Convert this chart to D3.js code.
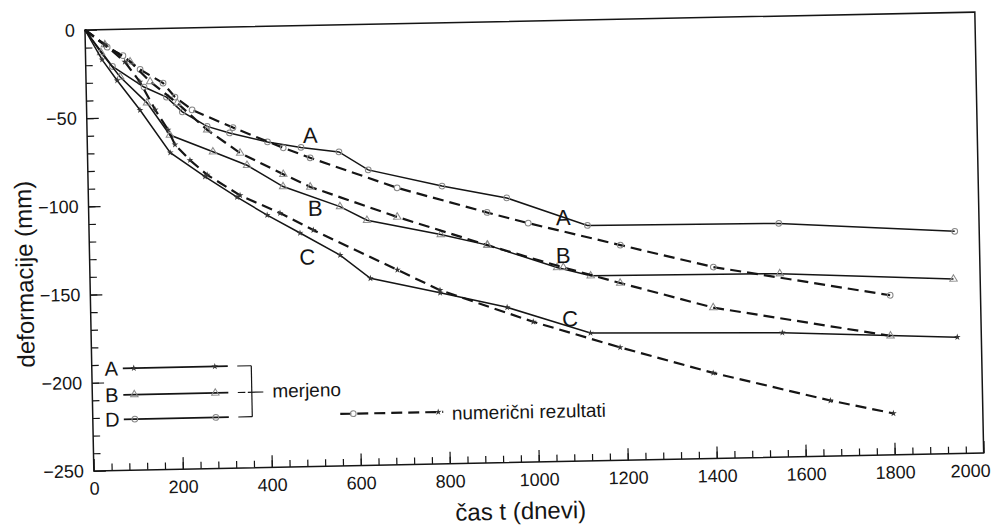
<!DOCTYPE html>
<html>
<head>
<meta charset="utf-8">
<script src="https://cdn.jsdelivr.net/npm/d3@7"></script>
<style>
body{margin:0;background:#fff;}
svg{display:block;font-family:"Liberation Sans",Arial,sans-serif;}
</style>
</head>
<body>
<svg id="chart" width="992" height="528"></svg>
<script>
// measured values (solid lines), [t (days), deformation (mm)]
const measuredA = [[0,0],[60,-21],[130,-33],[180,-39],[215,-47.5],[270,-56],[320,-60],[405,-65.5],[480,-69],[565,-72],[630,-82.5],[795,-92.5],[940,-100],[1120,-116.5],[1550,-117.5],[1945,-124]];
const measuredB = [[0,0],[35,-13],[77,-27],[136,-42],[186,-60.5],[282,-70.5],[358,-78.5],[438,-91],[565,-103],[625,-111],[790,-120],[895,-126.5],[1050,-140],[1125,-145],[1550,-146],[1940,-151]];
const measuredC = [[0,0],[37,-17],[70,-29],[120,-46],[186,-70.5],[263,-84.5],[334,-96.5],[401,-107],[474,-117.5],[563,-130.5],[630,-144],[786,-153],[936,-162],[1122,-177.5],[1553,-179.5],[1946,-184]];

// numerical results (dashed lines)
const numericA = [[0,0],[49,-10],[84,-15],[122,-23],[173,-31],[199,-39],[237,-46.5],[328,-57],[440,-69],[500,-75],[694,-93],[895,-108],[987,-114.5],[1193,-128],[1401,-141.5],[1797,-159.5]];
const numericB = [[0,0],[44,-8.5],[100,-18.5],[144,-30],[204,-42.5],[270,-58],[343,-71.5],[439,-84],[499,-91.5],[693,-109.5],[894,-126.5],[1064,-140],[1191,-149.5],[1399,-164.5],[1796,-182.5]];
const numericC = [[0,0],[44,-8.5],[88,-18.5],[121,-30],[154,-46],[182,-57.5],[197,-66],[230,-75],[268,-83.5],[341,-95.5],[430,-106],[504,-116],[691,-139.5],[786,-151.5],[994,-170.5],[1188,-186],[1396,-201.5],[1658,-218.5],[1799,-226.5]];

const xTickLabels = [0,200,400,600,800,1000,1200,1400,1600,1800,2000];
const yTickLabels = [0,-50,-100,-150,-200,-250];
const curveLabels = [
  {t:'A', x:501, y:-62}, {t:'A', x:1066, y:-111.5},
  {t:'B', x:509, y:-103.5}, {t:'B', x:1064, y:-133},
  {t:'C', x:489, y:-131}, {t:'C', x:1077, y:-169}
];
const legendNames = ['A','B','D'];

const W = 890, H = 441;
const ink = '#151515';

const svg = d3.select('#chart');
svg.append('rect').attr('width',992).attr('height',528).attr('fill','#fff');

// the scanned figure is tilted a little
const g = svg.append('g').attr('transform','translate(85,30) rotate(-1.15)');

const x = d3.scaleLinear().domain([0,2000]).range([0,W]);
const y = d3.scaleLinear().domain([0,-250]).range([0,H]);

// axes: minor ticks every 40 days / 10 mm, long ones on the labels
g.append('g').attr('class','ax').attr('transform','translate(0,'+H+')')
  .call(d3.axisBottom(x).tickValues(d3.range(40,2000,40)).tickSize(-7).tickFormat(''));
g.append('g').attr('class','ax xlab').attr('transform','translate(0,'+H+')')
  .call(d3.axisBottom(x).tickValues(xTickLabels).tickSize(-12).tickPadding(11).tickFormat(d3.format('d')));
g.append('g').attr('class','ax')
  .call(d3.axisLeft(y).tickValues(d3.range(-10,-250,-10)).tickSize(-7).tickFormat(''));
g.append('g').attr('class','ax ylab')
  .call(d3.axisLeft(y).tickValues(yTickLabels).tickSize(-12).tickPadding(10).tickFormat(d3.format('d')));

g.selectAll('.ax .domain').remove();
g.selectAll('.ax line').attr('stroke',ink).attr('stroke-width',1.2);
g.selectAll('.ax text').attr('fill',ink).style('font-size','18px');
g.selectAll('.xlab .tick text').filter(d=>d===2000).attr('dx',-14);

g.append('rect').attr('width',W).attr('height',H)
  .attr('fill','none').attr('stroke',ink).attr('stroke-width',1.5);

// curves
const line = d3.line().x(d=>x(d[0])).y(d=>y(d[1]));
const series = [
  {data:measuredA, dash:null, mk:'circle'},
  {data:measuredB, dash:null, mk:'triangle'},
  {data:measuredC, dash:null, mk:'star'},
  {data:numericA, dash:'11,6', mk:'circle'},
  {data:numericB, dash:'11,6', mk:'triangle'},
  {data:numericC, dash:'11,6', mk:'star'}
];

const symbols = {
  circle: d3.symbol().type(d3.symbolCircle).size(26),
  triangle: d3.symbol().type(d3.symbolTriangle).size(24),
  star: d3.symbol().type(d3.symbolStar).size(14)
};

function drawMarker(sel, mk){
  sel.append('path').attr('d',symbols[mk]())
    .attr('fill', mk==='star' ? '#333' : 'none')
    .attr('stroke', mk==='star' ? 'none' : '#888')
    .attr('stroke-width',1);
}

series.forEach(s=>{
  g.append('path').datum(s.data).attr('d',line)
    .attr('fill','none').attr('stroke',ink)
    .attr('stroke-width', s.dash ? 2.2 : 1.5)
    .attr('stroke-dasharray', s.dash);
  g.selectAll(null).data(s.data.slice(1)).enter().append('g')
    .attr('transform',d=>'translate('+x(d[0])+','+y(d[1])+')')
    .each(function(){ drawMarker(d3.select(this), s.mk); });
});

g.selectAll(null).data(curveLabels).enter().append('text')
  .attr('x',d=>x(d.x)).attr('y',d=>y(d.y)).attr('dy','0.36em')
  .attr('text-anchor','middle').attr('fill',ink)
  .style('font-size','22px').text(d=>d.t);

// axis titles
g.append('text').attr('x',426).attr('y',498).attr('text-anchor','middle')
  .attr('fill',ink).style('font-size','24px').text('čas t (dnevi)');
g.append('text').attr('transform','translate(-57,243) rotate(-90)').attr('text-anchor','middle')
  .attr('fill',ink).style('font-size','24px').text('deformacije (mm)');

// legend
const lg = g.append('g');
const legY = [339,365.5,390];
const legMk = ['star','triangle','circle'];
legendNames.forEach((n,i)=>{
  lg.append('text').attr('x',19.5).attr('y',legY[i]).attr('dy','0.36em')
    .attr('text-anchor','middle').attr('fill',ink).style('font-size','20px').text(n);
  lg.append('line').attr('x1',31).attr('x2',136).attr('y1',legY[i]).attr('y2',legY[i])
    .attr('stroke',ink).attr('stroke-width',1.8);
  [42,123].forEach(px=>{
    drawMarker(lg.append('g').attr('transform','translate('+px+','+legY[i]+')'), legMk[i]);
  });
});
[legY[0],legY[2]].forEach(py=>{
  lg.append('line').attr('x1',145.5).attr('x2',159.5).attr('y1',py).attr('y2',py)
    .attr('stroke',ink).attr('stroke-width',1.2);
});
lg.append('line').attr('x1',159.5).attr('x2',159.5).attr('y1',legY[0]).attr('y2',legY[2])
  .attr('stroke',ink).attr('stroke-width',1.2);
lg.append('line').attr('x1',145.5).attr('x2',153).attr('y1',legY[1]).attr('y2',legY[1])
  .attr('stroke',ink).attr('stroke-width',1.2);
lg.append('line').attr('x1',155.5).attr('x2',171).attr('y1',legY[1]).attr('y2',legY[1])
  .attr('stroke',ink).attr('stroke-width',1.2);
lg.append('text').attr('x',180).attr('y',legY[1]).attr('dy','0.3em')
  .attr('fill',ink).style('font-size','19px').text('merjeno');

lg.append('line').attr('x1',247.5).attr('x2',350.5).attr('y1',389).attr('y2',389)
  .attr('stroke',ink).attr('stroke-width',2.2).attr('stroke-dasharray','11,6');
drawMarker(lg.append('g').attr('transform','translate(260.5,389)'),'circle');
drawMarker(lg.append('g').attr('transform','translate(345.5,389)'),'star');
lg.append('text').attr('x',359).attr('y',391).attr('dy','0.32em')
  .attr('fill',ink).style('font-size','19px').text('numerični rezultati');
</script>
</body>
</html>
